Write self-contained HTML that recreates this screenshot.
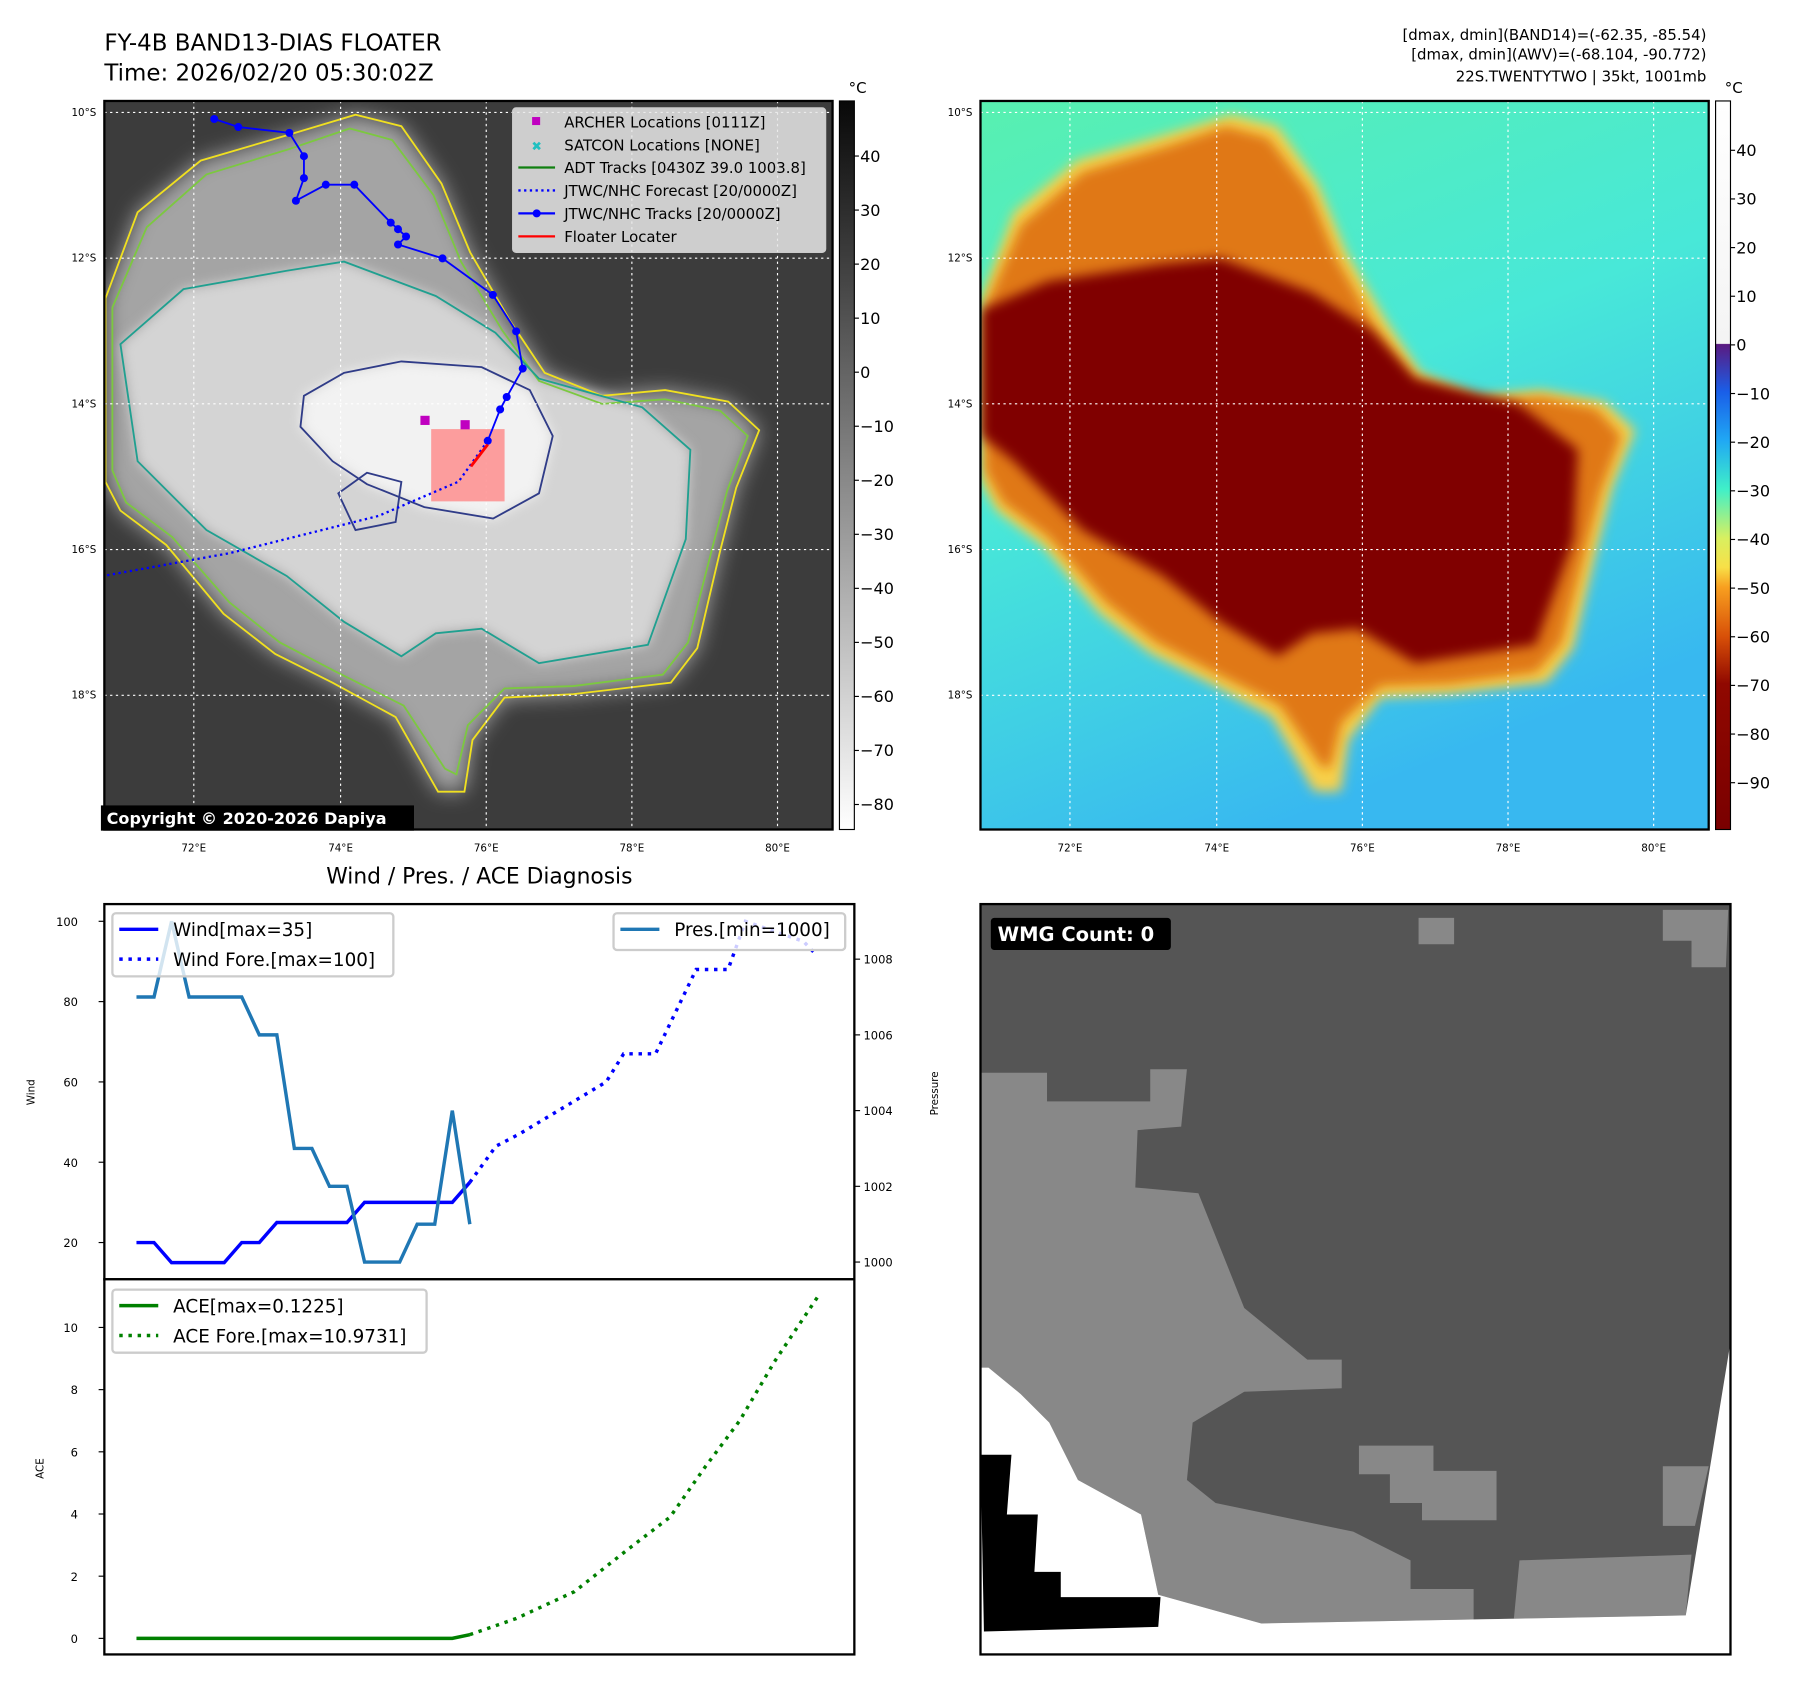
<!DOCTYPE html>
<html><head><meta charset="utf-8"><style>
html,body{margin:0;padding:0;background:#fff;}
svg{display:block;font-family:"DejaVu Sans","Liberation Sans",sans-serif;}
</style></head><body>
<svg id="fig" width="1797" height="1690" viewBox="0 0 1567 1473" preserveAspectRatio="none">
<defs>
<filter id="blur4"><feGaussianBlur stdDeviation="5"/></filter>
<filter id="blur8"><feGaussianBlur stdDeviation="9"/></filter>
<clipPath id="clip1"><rect x="91" y="88" width="635" height="635"/></clipPath>
<clipPath id="clip2"><rect x="855" y="88" width="635" height="635"/></clipPath>
<linearGradient id="cb1" x1="0" y1="0" x2="0" y2="1"><stop offset="0" stop-color="#080808"/><stop offset="1" stop-color="#ffffff"/></linearGradient>
<linearGradient id="cb2" x1="0" y1="0" x2="0" y2="1">
<stop offset="0" stop-color="#ffffff"/><stop offset="0.333" stop-color="#f4f4f4"/>
<stop offset="0.334" stop-color="#5a1a80"/><stop offset="0.399" stop-color="#1a5ee8"/>
<stop offset="0.466" stop-color="#20a8f4"/><stop offset="0.533" stop-color="#40f0c8"/>
<stop offset="0.6" stop-color="#d8f060"/><stop offset="0.64" stop-color="#f8e048"/>
<stop offset="0.667" stop-color="#f8a020"/><stop offset="0.735" stop-color="#d85008"/>
<stop offset="0.8" stop-color="#900800"/><stop offset="1" stop-color="#7a0000"/></linearGradient>
<linearGradient id="bg2" x1="0" y1="0" x2="0.4" y2="1"><stop offset="0" stop-color="#58f0b0"/><stop offset="0.5" stop-color="#48e8d8"/><stop offset="1" stop-color="#38b8f0"/></linearGradient>
</defs>

<text x="91" y="44" font-size="20">FY-4B BAND13-DIAS FLOATER</text>
<text x="91" y="70" font-size="20">Time: 2026/02/20 05:30:02Z</text>
<g font-size="13" text-anchor="end">
<text x="1488" y="35">[dmax, dmin](BAND14)=(-62.35, -85.54)</text>
<text x="1488" y="52">[dmax, dmin](AWV)=(-68.104, -90.772)</text>
<text x="1488" y="71">22S.TWENTYTWO | 35kt, 1001mb</text>
</g>

<!-- MAP 1 -->
<g clip-path="url(#clip1)">
<rect x="91" y="88" width="635" height="635" fill="#3c3c3c"/>
<g>
<polygon filter="url(#blur8)" fill="#a4a4a4" points="92,260 120,185 175,140 250,118 310,100 350,110 385,160 410,220 445,280 475,325 525,345 580,340 635,350 662,375 642,425 628,480 608,565 585,595 500,605 440,608 412,645 405,690 382,690 345,625 290,595 240,570 195,535 145,475 105,445 92,420"/>
<polygon filter="url(#blur4)" fill="#d4d4d4" points="105,300 160,252 250,236 300,228 380,258 432,290 470,330 560,355 602,392 598,470 565,562 470,578 420,548 380,552 350,572 300,542 250,502 180,462 120,402"/>
<polygon filter="url(#blur4)" fill="#f2f2f2" points="265,345 300,325 350,315 420,320 462,340 482,380 470,430 430,452 370,442 320,422 290,402 262,372"/>
</g>
<g fill="none" stroke-width="1.6">
<polygon stroke="#f0e020" points="92,260 120,185 175,140 250,118 310,100 350,110 385,160 410,220 445,280 475,325 525,345 580,340 635,350 662,375 642,425 628,480 608,565 585,595 500,605 440,608 412,645 405,690 382,690 345,625 290,595 240,570 195,535 145,475 105,445 92,420"/>
<polygon stroke="#7cc840" points="98,268 128,198 180,152 252,130 305,112 342,122 378,170 402,228 438,288 470,332 525,352 580,348 628,358 652,380 634,428 620,482 600,560 578,588 500,598 440,600 408,632 398,675 388,670 352,615 292,585 244,560 200,525 150,468 110,438 98,410"/>
<polygon stroke="#20a090" points="105,300 160,252 250,236 300,228 380,258 432,290 470,330 560,355 602,392 598,470 565,562 470,578 420,548 380,552 350,572 300,542 250,502 180,462 120,402"/>
<polygon stroke="#303c88" points="265,345 300,325 350,315 420,320 462,340 482,380 470,430 430,452 370,442 320,422 290,402 262,372"/>
<polygon stroke="#303c88" points="295,430 320,412 350,420 345,455 310,462"/>
</g>
<g stroke="#fff" stroke-dasharray="2,3" stroke-width="1">
<line x1="169" y1="88" x2="169" y2="723"/><line x1="297" y1="88" x2="297" y2="723"/><line x1="424" y1="88" x2="424" y2="723"/><line x1="551" y1="88" x2="551" y2="723"/><line x1="678" y1="88" x2="678" y2="723"/>
<line x1="91" y1="98" x2="726" y2="98"/><line x1="91" y1="225" x2="726" y2="225"/><line x1="91" y1="352" x2="726" y2="352"/><line x1="91" y1="479" x2="726" y2="479"/><line x1="91" y1="606" x2="726" y2="606"/>
</g>
<rect x="376" y="374" width="64" height="63" fill="#ff8080" opacity="0.75"/>
<g id="tracks"></g>
</g>
<rect x="91" y="88" width="635" height="635" fill="none" stroke="#000" stroke-width="2"/>
<g font-size="9" text-anchor="end">
<text x="84" y="101">10°S</text><text x="84" y="228">12°S</text><text x="84" y="355">14°S</text><text x="84" y="482">16°S</text><text x="84" y="609">18°S</text></g>
<g font-size="9" text-anchor="middle">
<text x="169" y="742">72°E</text><text x="297" y="742">74°E</text><text x="424" y="742">76°E</text><text x="551" y="742">78°E</text><text x="678" y="742">80°E</text></g>
<rect x="88" y="702" width="273" height="22" fill="#000"/>
<text x="93" y="718" font-size="14" font-weight="bold" fill="#fff">Copyright © 2020-2026 Dapiya</text>

<g>
<rect x="447" y="94" width="273" height="126" rx="3" fill="#e8e8e8" fill-opacity="0.85" stroke="#ccc"/>
<g font-size="13">
<rect x="464" y="102" width="7" height="7" fill="#c000c0"/><text x="492" y="111">ARCHER Locations [0111Z]</text>
<text x="468" y="131" fill="#20c0c0" text-anchor="middle" font-size="11">✖</text><text x="492" y="131">SATCON Locations [NONE]</text>
<line x1="452" y1="146" x2="484" y2="146" stroke="#108010" stroke-width="2"/><text x="492" y="151">ADT Tracks [0430Z 39.0 1003.8]</text>
<line x1="452" y1="166" x2="484" y2="166" stroke="#0000ff" stroke-width="2" stroke-dasharray="2,3"/><text x="492" y="171">JTWC/NHC Forecast [20/0000Z]</text>
<line x1="452" y1="186" x2="484" y2="186" stroke="#0000ff" stroke-width="2"/><circle cx="468" cy="186" r="3.5" fill="#0000ff"/><text x="492" y="191">JTWC/NHC Tracks [20/0000Z]</text>
<line x1="452" y1="206" x2="484" y2="206" stroke="#ff0000" stroke-width="2"/><text x="492" y="211">Floater Locater</text>
</g></g>

<rect x="732" y="88" width="13" height="635" fill="url(#cb1)" stroke="#000" stroke-width="1"/>
<text x="740" y="81" font-size="13">°C</text>
<g id="cb1ticks" font-size="14"></g>

<!-- MAP 2 -->
<g clip-path="url(#clip2)">
<rect x="855" y="88" width="635" height="635" fill="url(#bg2)"/>
<g transform="translate(764,0)">
<polygon filter="url(#blur4)" fill="#f8d048" points="92,260 120,185 175,140 250,118 310,100 350,110 385,160 410,220 445,280 475,325 525,345 580,340 635,350 662,375 642,425 628,480 608,565 585,595 500,605 440,608 412,645 405,690 382,690 345,625 290,595 240,570 195,535 145,475 105,445 92,420"/>
<polygon filter="url(#blur4)" fill="#e07818" points="95,268 126,196 180,150 252,128 305,110 342,120 378,168 402,226 436,286 468,330 525,350 580,346 628,356 650,380 632,428 618,482 598,560 576,586 500,596 440,598 406,630 396,670 388,668 352,615 292,585 244,560 200,525 150,468 110,438 95,410"/>
<polygon filter="url(#blur4)" fill="#800000" points="92,270 150,245 250,230 300,225 380,255 432,288 470,330 560,352 612,392 608,470 575,562 470,578 420,548 380,552 350,572 300,542 250,502 180,462 120,402 92,380"/>
</g>
<g stroke="#fff" stroke-dasharray="2,3" stroke-width="1">
<line x1="933" y1="88" x2="933" y2="723"/><line x1="1061" y1="88" x2="1061" y2="723"/><line x1="1188" y1="88" x2="1188" y2="723"/><line x1="1315" y1="88" x2="1315" y2="723"/><line x1="1442" y1="88" x2="1442" y2="723"/>
<line x1="855" y1="98" x2="1490" y2="98"/><line x1="855" y1="225" x2="1490" y2="225"/><line x1="855" y1="352" x2="1490" y2="352"/><line x1="855" y1="479" x2="1490" y2="479"/><line x1="855" y1="606" x2="1490" y2="606"/>
</g>
</g>
<rect x="855" y="88" width="635" height="635" fill="none" stroke="#000" stroke-width="2"/>
<g font-size="9" text-anchor="end"><text x="848" y="101">10°S</text><text x="848" y="228">12°S</text><text x="848" y="355">14°S</text><text x="848" y="482">16°S</text><text x="848" y="609">18°S</text></g>
<g font-size="9" text-anchor="middle"><text x="933" y="742">72°E</text><text x="1061" y="742">74°E</text><text x="1188" y="742">76°E</text><text x="1315" y="742">78°E</text><text x="1442" y="742">80°E</text></g>
<rect x="1496" y="88" width="13" height="635" fill="url(#cb2)" stroke="#000" stroke-width="1"/>
<text x="1504" y="81" font-size="13">°C</text>
<g id="cb2ticks" font-size="14"></g>

<!-- WMG panel -->
<g>
<rect x="855" y="788" width="654" height="654" fill="#555555"/>
<polygon fill="#888888" points="855,935 913,935 913,960 1003,960 1003,932 1035,932 1030,982 992,985 990,1035 1045,1040 1085,1140 1140,1185 1170,1185 1170,1210 1085,1213 1040,1240 1035,1290 1060,1310 1180,1335 1230,1360 1230,1385 1285,1385 1285,1412 1320,1412 1325,1360 1475,1355 1470,1408 1100,1415 1010,1390 995,1320 940,1290 915,1240 890,1215 862,1192 855,1192"/>
<polygon fill="#888888" points="1185,1260 1250,1260 1250,1282 1305,1282 1305,1325 1240,1325 1240,1310 1212,1310 1212,1285 1185,1285"/>
<polygon fill="#888888" points="1450,1278 1490,1278 1478,1330 1450,1330"/>
<rect x="1237" y="800" width="31" height="23" fill="#888888"/>
<polygon fill="#888888" points="1450,793 1507,793 1505,843 1475,843 1475,820 1450,820"/>
<polygon fill="#ffffff" points="855,1192 862,1192 890,1215 915,1240 940,1290 995,1320 1010,1390 1100,1415 1470,1408 1509,1170 1509,1442 855,1442"/>
<polygon fill="#000000" points="855,1268 882,1268 878,1320 905,1320 902,1370 925,1370 925,1392 1012,1392 1010,1418 858,1422"/>
<rect x="855" y="788" width="654" height="654" fill="none" stroke="#000" stroke-width="2"/>
<rect x="864" y="800" width="157" height="28" rx="3" fill="#000"/>
<text x="870" y="820" font-size="17" font-weight="bold" fill="#fff">WMG Count: 0</text>
</g>

<text x="418" y="770" font-size="19" text-anchor="middle">Wind / Pres. / ACE Diagnosis</text>
<g id="chart"></g>
</svg>
<script>
// ---- chart data ----
const windObs = [20,20,15,15,15,15,20,20,25,25,25,25,25,30,30,30,30,30,30,35];
const presObs = [1007,1007,1009,1007,1007,1007,1007,1006,1006,1003,1003,1002,1002,1000,1000,1000,1001,1001,1004,1001];
const aceObs = [0,0,0,0,0,0,0,0,0,0,0,0,0,0,0,0,0,0,0,0.12];
const foreHours = [0,9,17,47,53,64,78,89,95,115,119];
const windFore = [35,44,47,60,67,67,88,88,100,95,92];
const aceForeHours = [0,16,36,55,69,81,93,105,120];
const aceFore = [0.12,0.64,1.5,2.9,3.9,5.5,7.0,8.9,11.0];
const windTicks = [20,40,60,80,100];
const presTicks = [1000,1002,1004,1006,1008];
const aceTicks = [0,2,4,6,8,10];
const trackLon = [72.28,72.61,73.31,73.51,73.51,73.40,73.81,74.20,74.70,74.80,74.91,74.80,75.41,76.10,76.42,76.51,76.29,76.20,76.03];
const trackLat = [10.09,10.20,10.28,10.60,10.90,11.21,10.99,10.99,11.51,11.60,11.70,11.81,12.00,12.50,13.00,13.51,13.90,14.07,14.50];
const foreLon = [76.03,75.63,74.53,72.49,70.77];
const foreLat = [14.50,15.06,15.53,16.04,16.35];
const archerLon = [75.17,75.72];
const archerLat = [14.22,14.28];
const cb1Vals = [40,30,20,10,0,-10,-20,-30,-40,-50,-60,-70,-80];
const cb2Vals = [40,30,20,10,0,-10,-20,-30,-40,-50,-60,-70,-80,-90];

const NS='http://www.w3.org/2000/svg';
function mk(tag, attrs, parent){const e=document.createElementNS(NS,tag);for(const k in attrs)e.setAttribute(k,attrs[k]);parent.appendChild(e);return e;}
const xStep = i => 119 + i*15.3;
const xHour = h => 119 + 19*15.3 + h*2.53;
const yWind = v => 1083 - (v-20)*3.5;
const yPres = p => 1100 - (p-1000)*33;
const yAce = v => 1428 - v*27.1;
const lonX = lon => 169 + (lon-72)*63.6;
const latY = lat => 98 + (lat-10)*63.6;

const tr = document.getElementById('tracks');
let p = foreLon.map((l,i)=>lonX(l)+','+latY(foreLat[i])).join(' ');
let el = mk('polyline',{points:p,fill:'none',stroke:'#0000ff','stroke-width':2,'stroke-dasharray':'2,3'},tr);


p = trackLon.map((l,i)=>lonX(l)+','+latY(trackLat[i])).join(' ');
el = mk('polyline',{points:p,fill:'none',stroke:'#0000ff','stroke-width':1.6},tr);


trackLon.forEach((l,i)=>{const c=mk('circle',{cx:lonX(l),cy:latY(trackLat[i]),r:3.5,fill:'#0000ff'},tr);

});
archerLon.forEach((l,i)=>{const r=mk('rect',{x:lonX(l)-4,y:latY(archerLat[i])-4,width:8,height:8,fill:'#c000c0'},tr);

});
el = mk('line',{x1:lonX(76.03),y1:latY(14.55),x2:lonX(75.8),y2:latY(14.85),stroke:'#ff0000','stroke-width':2.5},tr);



const cb1 = document.getElementById('cb1ticks');
cb1Vals.forEach(v=>{const y=136+(40-v)*4.71;mk('line',{x1:745,y1:y,x2:749,y2:y,stroke:'#000'},cb1);const t=mk('text',{x:750,y:y+5},cb1);t.textContent=(v<0?'\u2212'+(-v):v);});
const cb2 = document.getElementById('cb2ticks');
cb2Vals.forEach(v=>{const y=131+(40-v)*4.24;mk('line',{x1:1509,y1:y,x2:1513,y2:y,stroke:'#000'},cb2);const t=mk('text',{x:1514,y:y+5},cb2);t.textContent=(v<0?'\u2212'+(-v):v);});

const ch = document.getElementById('chart');
mk('rect',{x:91,y:788,width:654,height:327,fill:'#fff',stroke:'#000','stroke-width':2},ch);
mk('rect',{x:91,y:1115,width:654,height:327,fill:'#fff',stroke:'#000','stroke-width':2},ch);
windTicks.forEach(v=>{const y=yWind(v);mk('line',{x1:86,y1:y,x2:91,y2:y,stroke:'#000'},ch);const t=mk('text',{x:68,y:y+4,'font-size':10,'text-anchor':'end'},ch);t.textContent=v;});
presTicks.forEach(v=>{const y=yPres(v);mk('line',{x1:745,y1:y,x2:750,y2:y,stroke:'#000'},ch);const t=mk('text',{x:753,y:y+4,'font-size':10},ch);t.textContent=v;});
aceTicks.forEach(v=>{const y=yAce(v);mk('line',{x1:86,y1:y,x2:91,y2:y,stroke:'#000'},ch);const t=mk('text',{x:68,y:y+4,'font-size':10,'text-anchor':'end'},ch);t.textContent=v;});
let t=mk('text',{x:30,y:952,'font-size':9,'text-anchor':'middle',transform:'rotate(-90 30 952)'},ch);t.textContent='Wind';


t=mk('text',{x:818,y:953,'font-size':9,'text-anchor':'middle',transform:'rotate(-90 818 953)'},ch);t.textContent='Pressure';


t=mk('text',{x:38,y:1280,'font-size':9,'text-anchor':'middle',transform:'rotate(-90 38 1280)'},ch);t.textContent='ACE';



el=mk('polyline',{points:windObs.map((v,i)=>xStep(i)+','+yWind(v)).join(' '),fill:'none',stroke:'#0000ff','stroke-width':3},ch);


el=mk('polyline',{points:foreHours.map((h,i)=>xHour(h)+','+yWind(windFore[i])).join(' '),fill:'none',stroke:'#0000ff','stroke-width':3,'stroke-dasharray':'3,5'},ch);


el=mk('polyline',{points:presObs.map((v,i)=>xStep(i)+','+yPres(v)).join(' '),fill:'none',stroke:'#1f77b4','stroke-width':3},ch);


el=mk('polyline',{points:aceObs.map((v,i)=>xStep(i)+','+yAce(v)).join(' '),fill:'none',stroke:'#008000','stroke-width':3},ch);


el=mk('polyline',{points:aceForeHours.map((h,i)=>xHour(h)+','+yAce(aceFore[i])).join(' '),fill:'none',stroke:'#008000','stroke-width':3,'stroke-dasharray':'3,5'},ch);



function legend(x,y,w,h,items,name){const g=mk('g',{},ch);


mk('rect',{x:x,y:y,width:w,height:h,rx:3,fill:'#fff','fill-opacity':0.8,stroke:'#ccc','stroke-width':2},g);
items.forEach((it,i)=>{const yy=y+14+i*26;mk('line',{x1:x+6,y1:yy,x2:x+40,y2:yy,stroke:it[1],'stroke-width':3,'stroke-dasharray':it[2]?'3,5':'none'},g);const tt=mk('text',{x:x+53,y:yy+6,'font-size':16},g);tt.textContent=it[0];});}
legend(98,796,245,55,[['Wind[max=35]','#0000ff',0],['Wind Fore.[max=100]','#0000ff',1]],'wind-legend');
legend(535,796,202,32,[['Pres.[min=1000]','#1f77b4',0]],'pressure-legend');
legend(98,1124,274,55,[['ACE[max=0.1225]','#008000',0],['ACE Fore.[max=10.9731]','#008000',1]],'ace-legend');
</script>
</body></html>
